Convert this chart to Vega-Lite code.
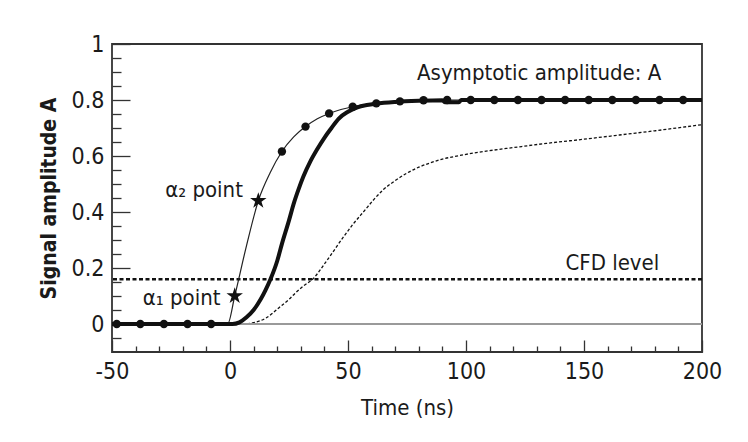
{
  "$schema": "https://vega.github.io/schema/vega-lite/v6.json",
  "width": 590,
  "height": 308,
  "autosize": {"type": "none"},
  "padding": {"left": 112, "top": 44, "right": 46, "bottom": 90},
  "background": "white",
  "config": {
    "view": {"stroke": "#333333", "strokeWidth": 1.8},
    "font": "DejaVu Sans Condensed, Liberation Sans, sans-serif",
    "axis": {
      "domain": false,
      "grid": false,
      "labelFlush": false,
      "tickColor": "#333333",
      "tickWidth": 1.3,
      "labelFont": "DejaVu Sans Condensed, Liberation Sans, sans-serif",
      "labelFontSize": 23,
      "labelColor": "#1a1a1a",
      "titleFont": "DejaVu Sans Condensed, Liberation Sans, sans-serif",
      "titleColor": "#1a1a1a"
    }
  },
  "datasets": {
    "curves": [
      {"t": -50, "v": 0, "s": "fast"}, {"t": -1, "v": 0, "s": "fast"}, {"t": 2, "v": 0.1, "s": "fast"},
      {"t": 7, "v": 0.28, "s": "fast"}, {"t": 12, "v": 0.44, "s": "fast"}, {"t": 17, "v": 0.54, "s": "fast"},
      {"t": 22, "v": 0.616, "s": "fast"}, {"t": 27, "v": 0.668, "s": "fast"}, {"t": 32, "v": 0.705, "s": "fast"},
      {"t": 37, "v": 0.733, "s": "fast"}, {"t": 42, "v": 0.752, "s": "fast"}, {"t": 47, "v": 0.766, "s": "fast"},
      {"t": 52, "v": 0.776, "s": "fast"}, {"t": 62, "v": 0.788, "s": "fast"}, {"t": 72, "v": 0.795, "s": "fast"},
      {"t": 82, "v": 0.799, "s": "fast"}, {"t": 92, "v": 0.8, "s": "fast"}, {"t": 200, "v": 0.8, "s": "fast"},

      {"t": -50, "v": 0, "s": "mid"}, {"t": 1, "v": 0, "s": "mid"}, {"t": 4, "v": 0.006, "s": "mid"},
      {"t": 7, "v": 0.024, "s": "mid"}, {"t": 10, "v": 0.05, "s": "mid"}, {"t": 13, "v": 0.088, "s": "mid"},
      {"t": 15, "v": 0.12, "s": "mid"}, {"t": 17, "v": 0.157, "s": "mid"}, {"t": 20, "v": 0.225, "s": "mid"},
      {"t": 22, "v": 0.286, "s": "mid"}, {"t": 25, "v": 0.37, "s": "mid"}, {"t": 27, "v": 0.43, "s": "mid"},
      {"t": 29, "v": 0.48, "s": "mid"}, {"t": 31, "v": 0.525, "s": "mid"}, {"t": 34, "v": 0.58, "s": "mid"},
      {"t": 37, "v": 0.625, "s": "mid"}, {"t": 40, "v": 0.665, "s": "mid"}, {"t": 43, "v": 0.7, "s": "mid"},
      {"t": 46, "v": 0.733, "s": "mid"}, {"t": 50, "v": 0.758, "s": "mid"}, {"t": 54, "v": 0.774, "s": "mid"},
      {"t": 58, "v": 0.782, "s": "mid"}, {"t": 62, "v": 0.787, "s": "mid"}, {"t": 70, "v": 0.793, "s": "mid"},
      {"t": 80, "v": 0.797, "s": "mid"}, {"t": 90, "v": 0.799, "s": "mid"}, {"t": 91, "v": 0.792, "s": "mid"},
      {"t": 97, "v": 0.792, "s": "mid"}, {"t": 98, "v": 0.8, "s": "mid"}, {"t": 200, "v": 0.8, "s": "mid"},

      {"t": -50, "v": 0, "s": "slow"}, {"t": 6, "v": 0, "s": "slow"}, {"t": 10, "v": 0.005, "s": "slow"},
      {"t": 15, "v": 0.02, "s": "slow"}, {"t": 21, "v": 0.06, "s": "slow"}, {"t": 25, "v": 0.088, "s": "slow"},
      {"t": 28, "v": 0.113, "s": "slow"}, {"t": 31, "v": 0.135, "s": "slow"}, {"t": 35, "v": 0.16, "s": "slow"},
      {"t": 41, "v": 0.226, "s": "slow"}, {"t": 48, "v": 0.31, "s": "slow"}, {"t": 52, "v": 0.355, "s": "slow"},
      {"t": 57, "v": 0.405, "s": "slow"}, {"t": 61, "v": 0.445, "s": "slow"}, {"t": 65, "v": 0.48, "s": "slow"},
      {"t": 70, "v": 0.512, "s": "slow"}, {"t": 75, "v": 0.539, "s": "slow"}, {"t": 80, "v": 0.56, "s": "slow"},
      {"t": 85, "v": 0.576, "s": "slow"}, {"t": 90, "v": 0.589, "s": "slow"}, {"t": 95, "v": 0.598, "s": "slow"},
      {"t": 100, "v": 0.606, "s": "slow"}, {"t": 110, "v": 0.619, "s": "slow"}, {"t": 120, "v": 0.63, "s": "slow"},
      {"t": 134, "v": 0.645, "s": "slow"}, {"t": 150, "v": 0.66, "s": "slow"}, {"t": 165, "v": 0.675, "s": "slow"},
      {"t": 180, "v": 0.69, "s": "slow"}, {"t": 200, "v": 0.712, "s": "slow"}
    ],
    "dots": [
      {"t": -48, "v": 0}, {"t": -38, "v": 0}, {"t": -28, "v": 0}, {"t": -18, "v": 0}, {"t": -8, "v": 0},
      {"t": 22, "v": 0.616}, {"t": 32, "v": 0.705}, {"t": 42, "v": 0.752}, {"t": 52, "v": 0.776},
      {"t": 62, "v": 0.788}, {"t": 72, "v": 0.795}, {"t": 82, "v": 0.799}, {"t": 92, "v": 0.8},
      {"t": 102, "v": 0.8}, {"t": 112, "v": 0.8}, {"t": 122, "v": 0.8}, {"t": 132, "v": 0.8},
      {"t": 142, "v": 0.8}, {"t": 152, "v": 0.8}, {"t": 162, "v": 0.8}, {"t": 172, "v": 0.8},
      {"t": 182, "v": 0.8}, {"t": 192, "v": 0.8}
    ],
    "stars": [
      {"t": 2, "v": 0.1, "name": "α1"},
      {"t": 12, "v": 0.44, "name": "α2"}
    ],
    "notes": [
      {"t": 131, "v": 0.897, "text": "Asymptotic amplitude: A"},
      {"t": 162, "v": 0.219, "text": "CFD level"},
      {"t": -11, "v": 0.48, "text": "α₂ point"},
      {"t": -20.5, "v": 0.094, "text": "α₁ point"}
    ],
    "levels": [{"v": 0, "kind": "baseline"}, {"v": 0.16, "kind": "cfd"}]
  },
  "resolve": {"axis": {"x": "independent", "y": "independent"}},
  "layer": [
    {
      "data": {"name": "curves"},
      "transform": [{"filter": "datum.s === 'slow'"}],
      "mark": {"type": "line", "interpolate": "monotone", "color": "#111111", "strokeWidth": 1.3, "strokeDash": [3, 2]},
      "encoding": {
        "x": {
          "field": "t", "type": "quantitative",
          "scale": {"domain": [-50, 200], "nice": false, "zero": false},
          "axis": {
            "orient": "bottom",
            "values": [-40, -30, -20, -10, 10, 20, 30, 40, 60, 70, 80, 90, 110, 120, 130, 140, 160, 170, 180, 190],
            "offset": -6, "tickSize": 6, "labels": false, "title": null
          }
        },
        "y": {
          "field": "v", "type": "quantitative",
          "scale": {"domain": [-0.1, 1], "nice": false, "zero": false},
          "axis": {
            "orient": "left",
            "values": [-0.05, 0.05, 0.1, 0.15, 0.25, 0.3, 0.35, 0.45, 0.5, 0.55, 0.65, 0.7, 0.75, 0.85, 0.9, 0.95],
            "offset": -9, "tickSize": 9, "labels": false, "title": null
          }
        }
      }
    },
    {
      "data": {"name": "levels"},
      "transform": [{"filter": "datum.kind === 'baseline'"}],
      "mark": {"type": "rule", "color": "#9a9a9a", "strokeWidth": 2},
      "encoding": {"y": {"field": "v", "type": "quantitative", "axis": null}}
    },
    {
      "data": {"name": "levels"},
      "transform": [{"filter": "datum.kind === 'cfd'"}],
      "mark": {"type": "rule", "color": "#111111", "strokeWidth": 2.5, "strokeDash": [4, 2.5]},
      "encoding": {"y": {"field": "v", "type": "quantitative", "axis": null}}
    },
    {
      "data": {"name": "curves"},
      "transform": [{"filter": "datum.s === 'fast'"}],
      "mark": {"type": "line", "interpolate": "monotone", "color": "#222222", "strokeWidth": 1.2},
      "encoding": {
        "x": {"field": "t", "type": "quantitative", "axis": null},
        "y": {"field": "v", "type": "quantitative", "axis": null}
      }
    },
    {
      "data": {"name": "curves"},
      "transform": [{"filter": "datum.s === 'mid'"}],
      "mark": {"type": "line", "interpolate": "monotone", "color": "#111111", "strokeWidth": 4},
      "encoding": {
        "x": {
          "field": "t", "type": "quantitative",
          "axis": {
            "orient": "bottom",
            "values": [-50, 0, 50, 100, 150, 200],
            "labelExpr": "'' + datum.value",
            "offset": -12, "tickSize": 12, "labelPadding": 8,
            "title": "Time (ns)", "titleFontSize": 22, "titleFontWeight": "normal", "titlePadding": 14
          }
        },
        "y": {
          "field": "v", "type": "quantitative",
          "axis": {
            "orient": "left",
            "values": [0, 0.2, 0.4, 0.6, 0.8, 1],
            "labelExpr": "'' + round(datum.value * 10) / 10",
            "offset": -18, "tickSize": 18, "labelPadding": 8,
            "title": "Signal amplitude A", "titleFontSize": 21, "titleFontWeight": "bold", "titlePadding": 12
          }
        }
      }
    },
    {
      "data": {"name": "dots"},
      "mark": {"type": "circle", "color": "#111111", "opacity": 1, "size": 70},
      "encoding": {
        "x": {"field": "t", "type": "quantitative", "axis": null},
        "y": {"field": "v", "type": "quantitative", "axis": null}
      }
    },
    {
      "data": {"name": "stars"},
      "mark": {
        "type": "point", "filled": true, "color": "#111111", "opacity": 1, "size": 300,
        "shape": "M0,-1L0.2245,-0.309L0.951,-0.309L0.363,0.118L0.588,0.809L0,0.382L-0.588,0.809L-0.363,0.118L-0.951,-0.309L-0.2245,-0.309Z"
      },
      "encoding": {
        "x": {"field": "t", "type": "quantitative", "axis": null},
        "y": {"field": "v", "type": "quantitative", "axis": null}
      }
    },
    {
      "data": {"name": "notes"},
      "mark": {"type": "text", "font": "DejaVu Sans Condensed, Liberation Sans, sans-serif", "fontSize": 22, "color": "#1a1a1a", "align": "center", "baseline": "middle"},
      "encoding": {
        "x": {"field": "t", "type": "quantitative", "axis": null},
        "y": {"field": "v", "type": "quantitative", "axis": null},
        "text": {"field": "text"}
      }
    }
  ]
}
